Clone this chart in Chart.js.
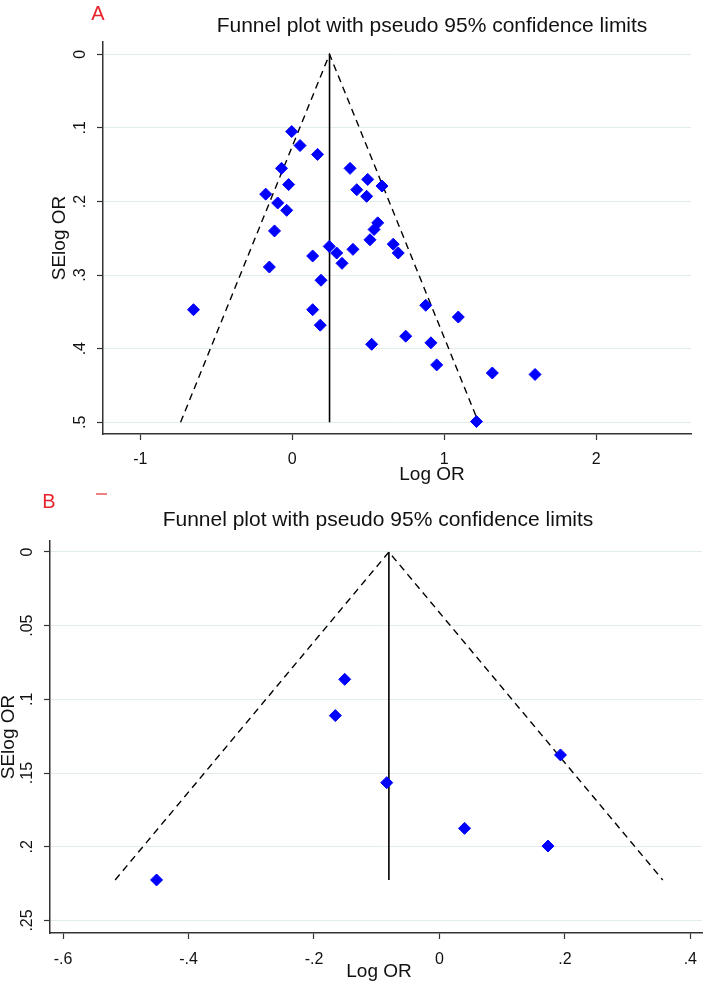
<!DOCTYPE html>
<html>
<head>
<meta charset="utf-8">
<script src="https://cdn.jsdelivr.net/npm/chart.js@4.4.1/dist/chart.umd.min.js"></script>
<style>
html,body{margin:0;padding:0;background:#fff;}
#wrap{position:relative;width:709px;height:984px;overflow:hidden;background:#fff;}
canvas{position:absolute;left:0;}
#cA{top:0;}
#cB{top:492px;}
</style>
</head>
<body>
<div id="wrap">
<canvas id="cA" width="709" height="492"></canvas>
<canvas id="cB" width="709" height="492"></canvas>
</div>
<script>
// ---------- Panel A data ----------
const logOR_A = [-0.004, 0.051, 0.166, -0.071, -0.024, -0.175, -0.096, -0.037, -0.117, -0.151,
                 0.134, 0.189, 0.134, 0.184, -0.650, 0.243, 0.292, 0.380, 0.424, 0.399,
                 0.327, 0.496, 0.489, 0.590, 0.562, 0.538, 0.511, 0.664, 0.697, 0.878,
                 1.092, 0.746, 0.522, 0.912, 0.950, 1.316, 1.597, 1.212];
const seLogOR_A = [0.105, 0.124, 0.136, 0.155, 0.177, 0.190, 0.202, 0.212, 0.240, 0.289,
                   0.274, 0.307, 0.347, 0.368, 0.347, 0.261, 0.270, 0.155, 0.184, 0.265,
                   0.284, 0.170, 0.193, 0.179, 0.229, 0.238, 0.252, 0.258, 0.270, 0.341,
                   0.357, 0.383, 0.394, 0.392, 0.422, 0.433, 0.435, 0.499];
const funnelX_A = [-0.735, 0.245, 1.225];
const funnelY_A = [0.5, 0, 0.5];
const pooledX_A = [0.245, 0.245];
const pooledY_A = [0, 0.5];
const xTicksA = [-1, 0, 1, 2];
const xTickLabelsA = ['-1', '0', '1', '2'];
const yTicksA = [0, 0.1, 0.2, 0.3, 0.4, 0.5];
const yTickLabelsA = ['0', '.1', '.2', '.3', '.4', '.5'];

// ---------- Panel B data ----------
const logOR_B = [-0.151, -0.166, 0.193, -0.084, 0.040, 0.173, -0.451];
const seLogOR_B = [0.0864, 0.111, 0.1377, 0.1565, 0.1875, 0.1995, 0.2225];
const funnelX_B = [-0.517, -0.0806, 0.356];
const funnelY_B = [0.2225, 0, 0.2225];
const pooledX_B = [-0.0806, -0.0806];
const pooledY_B = [0, 0.2225];
const xTicksB = [-0.6, -0.4, -0.2, 0, 0.2, 0.4];
const xTickLabelsB = ['-.6', '-.4', '-.2', '0', '.2', '.4'];
const yTicksB = [0, 0.05, 0.1, 0.15, 0.2, 0.25];
const yTickLabelsB = ['0', '.05', '.1', '.15', '.2', '.25'];

const titleText = 'Funnel plot with pseudo 95% confidence limits';
const xTitle = 'Log OR';
const yTitle = 'SElog OR';

// ---------- helpers ----------
const FONT = "'Liberation Sans', Arial, sans-serif";
const TXT = '#111111';
const AXIS = '#333333';
const GRID = '#e2ebee';
Chart.defaults.font.family = FONT;

const pts = (xs, ys) => xs.map((x, i) => ({x: x, y: ys[i]}));

const textPlugin = {
  id: 'texts',
  afterDraw(chart, args, opts) {
    const ctx = chart.ctx;
    (opts.items || []).forEach(it => {
      ctx.save();
      ctx.font = it.font;
      ctx.fillStyle = it.color;
      ctx.textAlign = 'center';
      ctx.textBaseline = 'middle';
      ctx.translate(it.x, it.y);
      if (it.rot) ctx.rotate(it.rot);
      ctx.fillText(it.text, 0, 0);
      ctx.restore();
    });
    (opts.marks || []).forEach(m => {
      ctx.save();
      ctx.strokeStyle = m.color;
      ctx.lineWidth = m.w;
      ctx.beginPath();
      ctx.moveTo(m.x1, m.y1);
      ctx.lineTo(m.x2, m.y2);
      ctx.stroke();
      ctx.restore();
    });
  }
};

function makeChart(id, d) {
  return new Chart(document.getElementById(id), {
    type: 'scatter',
    data: {
      datasets: [
        {
          data: pts(d.xs, d.ys),
          pointStyle: 'rectRot',
          pointRadius: 6,
          backgroundColor: '#0000ff',
          borderColor: '#0000ff',
          borderWidth: 1,
          order: 0
        },
        {
          data: pts(d.fx, d.fy),
          showLine: true,
          pointRadius: 0,
          borderColor: '#000000',
          borderWidth: 1.4,
          borderDash: [7, 5],
          fill: false,
          order: 1
        },
        {
          data: pts(d.px, d.py),
          showLine: true,
          pointRadius: 0,
          borderColor: '#000000',
          borderWidth: 1.6,
          fill: false,
          order: 2
        }
      ]
    },
    options: {
      responsive: false,
      animation: false,
      devicePixelRatio: 1,
      layout: { padding: d.pad },
      plugins: {
        legend: { display: false },
        tooltip: { enabled: false },
        title: { display: false },
        texts: { items: d.texts, marks: d.marks || [] }
      },
      scales: {
        x: {
          type: 'linear',
          min: d.xmin, max: d.xmax,
          afterBuildTicks: s => { s.ticks = d.xt.map(v => ({value: v})); },
          afterFit: s => { s.height = d.xAxisH; },
          ticks: {
            callback: v => d.xl[d.xt.indexOf(v)],
            font: { size: 16 }, color: TXT, padding: d.xPad,
            minRotation: 0, maxRotation: 0, autoSkip: false
          },
          grid: { drawOnChartArea: false, drawTicks: true, tickLength: 6, tickColor: AXIS, tickWidth: 1.2 },
          border: { display: true, color: AXIS, width: 1.5 }
        },
        y: {
          type: 'linear',
          reverse: true,
          min: d.ymin, max: d.ymax,
          afterBuildTicks: s => { s.ticks = d.yt.map(v => ({value: v})); },
          afterFit: s => { s.width = d.yAxisW; },
          ticks: {
            callback: v => d.yl[d.yt.indexOf(v)],
            font: { size: 16 }, color: TXT, padding: d.yPad,
            minRotation: 90, maxRotation: 90, crossAlign: 'center', autoSkip: false
          },
          grid: { color: GRID, lineWidth: 1, drawTicks: true, tickLength: 6, tickColor: AXIS, tickWidth: 1.2 },
          border: { display: true, color: AXIS, width: 1.5 }
        }
      }
    },
    plugins: [textPlugin]
  });
}

// Panel A
makeChart('cA', {
  xs: logOR_A, ys: seLogOR_A, fx: funnelX_A, fy: funnelY_A, px: pooledX_A, py: pooledY_A,
  xt: xTicksA, xl: xTickLabelsA, yt: yTicksA, yl: yTickLabelsA,
  xmin: -1.2454, xmax: 2.623, ymin: -0.0167, ymax: 0.5159,
  pad: { top: 42, left: 0, right: 18, bottom: 0 },
  yAxisW: 103, xAxisH: 58, xPad: 10, yPad: 10,
  texts: [
    { text: 'A', x: 98, y: 14, font: '20px ' + FONT, color: '#e8232b' },
    { text: titleText, x: 432, y: 26, font: '21px ' + FONT, color: TXT },
    { text: xTitle, x: 432, y: 475, font: '19px ' + FONT, color: TXT },
    { text: yTitle, x: 60, y: 238, font: '19px ' + FONT, color: TXT, rot: -Math.PI / 2 }
  ]
});

// Panel B
makeChart('cB', {
  xs: logOR_B, ys: seLogOR_B, fx: funnelX_B, fy: funnelY_B, px: pooledX_B, py: pooledY_B,
  xt: xTicksB, xl: xTickLabelsB, yt: yTicksB, yl: yTickLabelsB,
  xmin: -0.6209, xmax: 0.4186, ymin: -0.00746, ymax: 0.2585,
  pad: { top: 49, left: 0, right: 1, bottom: 0 },
  yAxisW: 50, xAxisH: 51, xPad: 11, yPad: 5,
  texts: [
    { text: 'B', x: 49, y: 10, font: '20px ' + FONT, color: '#e8232b' },
    { text: titleText, x: 378, y: 28, font: '21px ' + FONT, color: TXT },
    { text: xTitle, x: 379, y: 480, font: '19px ' + FONT, color: TXT },
    { text: yTitle, x: 9, y: 245, font: '19px ' + FONT, color: TXT, rot: -Math.PI / 2 }
  ],
  marks: [ { x1: 96, y1: 2, x2: 107, y2: 2, color: '#f08080', w: 2 } ]
});
</script>
</body>
</html>
